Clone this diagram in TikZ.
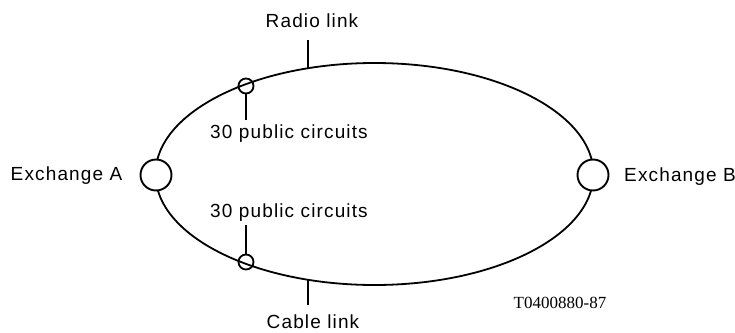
\documentclass[tikz,border=0pt]{standalone}
\usepackage{fontspec}
\setmainfont{Liberation Sans}[LetterSpace=6]
\newfontfamily\refnofont{Liberation Serif}
\begin{document}
\begin{tikzpicture}[x=1pt,y=-1pt,
  link/.style={line width=1.8pt},
  exch/.style={circle,draw,line width=1.9pt,fill=white,minimum size=31pt,inner sep=0pt},
  grp/.style={circle,draw,line width=1.8pt,minimum size=15pt,inner sep=0pt},
  lbl/.style={anchor=base,inner sep=0pt,font=\fontsize{19}{22}\selectfont},
  lead/.style={line width=1.5pt}]
\useasboundingbox (0,0) rectangle (735,332);

% the two routes between the exchanges
\draw[link] (374.5,174) ellipse [x radius=219, y radius=111];

% exchanges
\node[exch] (exA) at (156,175) {};
\node[exch] (exB) at (593,175) {};
\node[lbl] (labA) at (66.5,180) {Exchange A};
\node[lbl] (labB) at (680,181) {Exchange B};

% circuit groups on each route
\node[grp] (grpR) at (246,86) {};
\node[grp] (grpC) at (246,262) {};
\node[lbl] (txtR) at (289,138) {30 public circuits};
\node[lbl] (txtC) at (289,217) {30 public circuits};
\coordinate (leadR) at (246,120);
\coordinate (leadC) at (246,225);
\draw[lead] (grpR.south) -- (leadR);
\draw[lead] (leadC) -- (grpC.north);

% route labels with their ticks
\node[lbl] (radio) at (312,27) {Radio link};
\node[lbl] (cable) at (313,328) {Cable link};
\coordinate (radioTop) at (308,40);
\coordinate (radioFoot) at (308,68.2);
\coordinate (cableTop) at (308,279.8);
\coordinate (cableFoot) at (308,305);
\draw[lead] (radioTop) -- (radioFoot);
\draw[lead] (cableTop) -- (cableFoot);

% figure reference
\node[anchor=base,inner sep=0pt,font=\refnofont\fontsize{17}{20}\selectfont] (ref) at (560,308) {T0400880-87};
\end{tikzpicture}
\end{document}
